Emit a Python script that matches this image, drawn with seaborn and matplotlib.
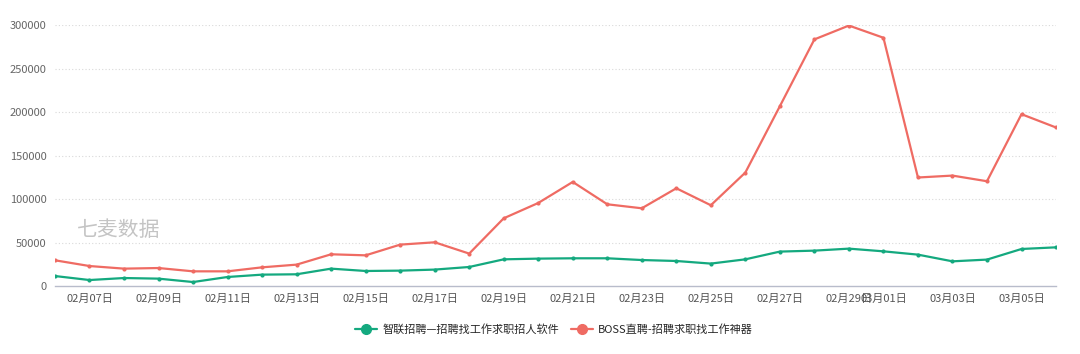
import pandas as pd
import seaborn as sns
import matplotlib.pyplot as plt

# dates 02/06 .. 03/06 (2024)
dates = ['02月06日', '02月07日', '02月08日', '02月09日', '02月10日', '02月11日',
         '02月12日', '02月13日', '02月14日', '02月15日', '02月16日', '02月17日',
         '02月18日', '02月19日', '02月20日', '02月21日', '02月22日', '02月23日',
         '02月24日', '02月25日', '02月26日', '02月27日', '02月28日', '02月29日',
         '03月01日', '03月02日', '03月03日', '03月04日', '03月05日', '03月06日']

zhilian = [11500, 6900, 9200, 8500, 4600, 10400, 13100, 13500, 20000, 17300,
           17700, 18900, 21900, 30700, 31500, 31900, 31900, 29900, 28800, 25800,
           30700, 39600, 40700, 43000, 39900, 36100, 28400, 30400, 42600, 44500]

boss = [29600, 23000, 20000, 20700, 16900, 16900, 21500, 24600, 36500, 35300,
        47600, 50300, 37300, 77900, 95500, 119700, 94000, 89400, 112400, 92900,
        130500, 206800, 283600, 299500, 285500, 124800, 127000, 120500, 197600, 182300]

names = ['智联招聘—招聘找工作求职招人软件', 'BOSS直聘-招聘求职找工作神器']
colors = ['#14a97f', '#ef6b63']
yticks = [0, 50000, 100000, 150000, 200000, 250000, 300000]
tick_idx = [1, 3, 5, 7, 9, 11, 13, 15, 17, 19, 21, 23, 24, 26, 28]

df = pd.DataFrame({
    'idx': list(range(len(dates))) * 2,
    'value': zhilian + boss,
    'app': [names[0]] * len(dates) + [names[1]] * len(dates),
})

sns.set_style('white')
plt.rcParams['font.family'] = ['Noto Sans CJK SC', 'DejaVu Sans']

fig = plt.figure(figsize=(10.8, 3.54), dpi=100)
ax = fig.add_axes([0.0509, 0.192, 0.9269, 0.737])

sns.lineplot(data=df, x='idx', y='value', hue='app', palette=colors,
             marker='o', markersize=3, markeredgewidth=0, linewidth=1.6,
             ax=ax, legend=False)

ax.set_xlim(0, len(dates) - 1)
ax.set_ylim(0, 300000)
ax.set_yticks(yticks)
ax.set_yticklabels([str(v) for v in yticks], fontsize=8, color='#666666')
ax.set_xticks(tick_idx)
ax.set_xticklabels([dates[i] for i in tick_idx], fontsize=8, color='#555555')
ax.tick_params(axis='both', length=0, pad=6)
ax.set_xlabel('')
ax.set_ylabel('')

for v in yticks[1:]:
    ax.axhline(v, color='#d9d9d9', linewidth=0.8, linestyle=(0, (1, 2)), zorder=0)

for s in ['top', 'right', 'left']:
    ax.spines[s].set_visible(False)
ax.spines['bottom'].set_color('#b8bccb')
ax.spines['bottom'].set_linewidth(1)

ax.text(0.022, 0.215, '七麦数据', transform=ax.transAxes, fontsize=15,
        color='#c4c4c4', ha='left', va='center')

handles = [plt.Line2D([], [], color=c, linewidth=1.6, marker='o', markersize=7)
           for c in colors]
fig.legend(handles, names, loc='center', bbox_to_anchor=(0.513, 0.068), ncol=2,
           frameon=False, fontsize=8, handlelength=2.0, columnspacing=1.0,
           handletextpad=0.5)

fig.savefig('out.png', dpi=100)
